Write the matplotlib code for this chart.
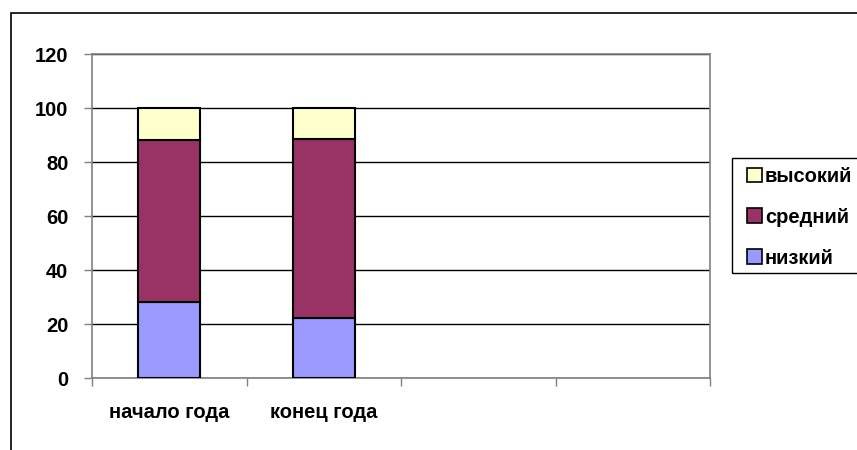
import matplotlib
matplotlib.use("Agg")
import matplotlib.pyplot as plt
from matplotlib.patches import Rectangle, Patch

categories = ["начало года", "конец года", "", ""]
low = [28.1, 22.4]
mid = [60.1, 66.3]
high = [11.8, 11.3]
series_names = ["низкий", "средний", "высокий"]
colors = ["#9999FF", "#993366", "#FFFFCC"]
yticks = [0, 20, 40, 60, 80, 100, 120]

W, H = 857, 450
fig = plt.figure(figsize=(W / 100, H / 100), dpi=100)
font = ["Liberation Sans", "DejaVu Sans"]
fs = 14.5

# outer chart border
fig.patches.append(Rectangle((11 / W, -0.1), 1.2, (H - 13) / H + 0.1,
                             transform=fig.transFigure, fill=False,
                             edgecolor="black", lw=1.2, zorder=0))

ax = fig.add_axes([92 / W, (H - 378) / H, (710 - 92) / W, (378 - 54) / H])
x = [i + 0.5 for i in range(len(low))]
bw = 0.4
ax.bar(x, low, bw, color=colors[0], edgecolor="black", lw=1.5, zorder=3)
bottom2 = low
ax.bar(x, mid, bw, bottom=bottom2, color=colors[1], edgecolor="black", lw=1.5, zorder=3)
bottom3 = [a + b for a, b in zip(low, mid)]
ax.bar(x, high, bw, bottom=bottom3, color=colors[2], edgecolor="black", lw=1.5, zorder=3)

ax.set_xlim(0, len(categories))
ax.set_ylim(0, 120)
ax.set_yticks(yticks)
ax.set_yticklabels([str(v) for v in yticks])
for t in ax.get_yticklabels():
    t.set_fontfamily(font)
    t.set_fontweight("bold")
    t.set_fontsize(fs)
ax.yaxis.grid(True, color="black", lw=1.0, zorder=0)
ax.tick_params(axis="y", direction="out", length=6, width=1, color="#808080", pad=11)

ax.set_xticks(range(len(categories) + 1))
ax.set_xticklabels([])
ax.set_xticks([i + 0.5 for i in range(len(categories))], minor=True)
ax.set_xticklabels(categories, minor=True)
for t in ax.get_xticklabels(minor=True):
    t.set_fontfamily(font)
    t.set_fontweight("bold")
    t.set_fontsize(fs)
ax.tick_params(axis="x", which="major", direction="out", length=6, width=1, color="#808080")
ax.tick_params(axis="x", which="minor", length=0, pad=18)

for s in ax.spines.values():
    s.set_color("#808080")
    s.set_linewidth(1.2)

# legend box
fig.patches.append(Rectangle((732 / W, (H - 273) / H), 0.2, (273 - 158) / H,
                             transform=fig.transFigure, fill=False,
                             edgecolor="black", lw=1.0, zorder=1))
handles = [Patch(facecolor=colors[i], edgecolor="black", lw=1.2, label=series_names[i])
           for i in [2, 1, 0]]
leg = fig.legend(handles=handles, loc="upper left",
                 bbox_to_anchor=(747 / W, (H - 167) / H), frameon=False,
                 prop={"family": font, "weight": "bold", "size": fs},
                 handlelength=0.75, handleheight=0.75, handletextpad=0.15,
                 labelspacing=1.08, borderpad=0.0, borderaxespad=0)

fig.savefig("out.png", dpi=100)
